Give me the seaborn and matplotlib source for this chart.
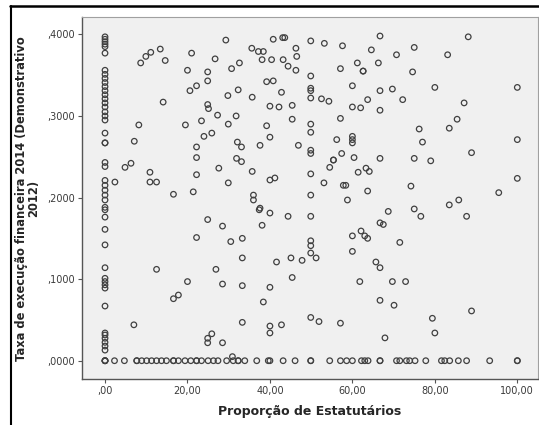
import matplotlib
matplotlib.use("Agg")
import matplotlib.pyplot as plt
import seaborn as sns
import pandas as pd
from matplotlib.lines import Line2D

# Proporção de Estatutários = 0 (coluna à esquerda)
col_zero_y = [0.397, 0.394, 0.391, 0.388, 0.385, 0.377, 0.356, 0.351, 0.346, 0.341,
              0.336, 0.331, 0.326, 0.321, 0.316, 0.311, 0.305, 0.300, 0.295, 0.279,
              0.267, 0.267, 0.243, 0.238, 0.221, 0.215, 0.209, 0.203, 0.197, 0.188,
              0.185, 0.176, 0.161, 0.142, 0.114, 0.101, 0.097, 0.093, 0.089, 0.067,
              0.034, 0.0315, 0.0275, 0.0225, 0.018, 0.013, 0.0, 0.0, 0.0, 0.0]

# Taxa = 0 (linha de baixo)
row_zero_x = [2.3, 4.7, 7.7, 7.7, 8.9, 10.1, 11.3, 12.5, 13.7, 14.9, 16.6, 16.6, 17.8,
              19.4, 20.8, 22.2, 22.2, 23.4, 25.0, 26.3, 27.4, 29.5, 31.1, 32.3, 32.3,
              33.9, 36.8, 39.6, 40.0, 43.2, 46.1, 49.9, 49.9, 54.5, 57.1, 58.6, 60.0,
              62.2, 63.0, 63.8, 66.7, 66.7, 70.7, 71.5, 73.1, 73.9, 75.2, 77.8, 81.6,
              82.4, 83.6, 85.7, 87.7, 93.3, 100.0, 100.0]

# demais pontos (x, y)
outros_x = [2.4, 4.85, 6.3, 7.1, 8.2, 8.65, 9.9, 11.1, 13.4, 14.6, 14.1, 10.9, 10.9, 12.5,
            16.6, 19.5, 20.0, 21.0, 20.6, 22.2, 21.4, 22.2, 22.2, 22.2, 23.4, 24.0, 25.9,
            24.9, 25.1, 24.9, 24.9, 26.7, 27.3, 27.6, 29.3, 29.8, 29.9, 29.9, 30.7, 31.8,
            32.3, 32.1, 31.9, 33.1, 33.1, 32.6, 35.6, 35.7, 35.7, 36.0, 36.0, 37.6, 37.2,
            38.4, 38.1, 37.6, 39.2, 39.2,
            40.8, 43.1, 43.6, 40.4, 43.2, 44.4, 46.3, 46.3, 46.5, 49.9, 53.2, 57.6, 66.7,
            64.6, 70.7, 75.0, 83.1, 88.1, 66.3, 61.2, 57.1, 62.6, 62.6, 74.6, 49.9, 40.8,
            42.8, 49.9, 49.9, 49.9, 52.5, 54.3, 60.0, 66.7, 69.7, 80.0, 100.0, 63.7, 72.2,
            60.0, 62.0, 66.7, 87.1, 40.0, 42.2, 45.4, 45.4, 57.1, 49.9, 49.9, 85.4, 83.5,
            76.2, 77.0, 100.0, 40.0, 46.9, 56.2, 60.0, 60.0, 60.0, 49.9, 49.9, 57.4, 55.4,
            55.4, 54.5, 60.4, 66.7, 75.0, 79.0, 88.9, 61.4, 63.3, 64.1, 49.9, 41.2, 40.0,
            53.1, 57.8, 58.4, 49.9, 63.7, 58.8, 74.2, 100.0, 95.5, 83.5, 85.8, 68.7, 75.0,
            76.6, 87.7, 40.0, 44.4, 49.9,
            66.7, 67.5, 60.0, 62.1, 63.0, 63.7, 71.5, 60.0, 49.9, 49.9, 49.9, 51.2, 41.6,
            45.1, 47.8, 65.7, 66.7, 45.4, 61.8, 69.7, 72.9, 40.0, 66.7, 70.1, 88.9, 49.9,
            51.9, 57.1, 79.4, 80.0, 67.9, 42.8, 40.0, 40.0,
            24.9, 28.5, 38.1, 37.4, 22.2, 30.5, 33.3, 33.3, 12.5, 26.9, 20.0, 28.5, 33.3,
            16.6, 17.8, 38.4, 7.0, 33.3, 24.9, 24.9, 25.9, 28.5, 30.9]
outros_y = [0.219, 0.237, 0.242, 0.269, 0.289, 0.365, 0.373, 0.378, 0.382, 0.368, 0.317,
            0.231, 0.219, 0.219, 0.204, 0.289, 0.356, 0.377, 0.331, 0.337, 0.207, 0.228,
            0.249, 0.262, 0.294, 0.275, 0.279, 0.314, 0.309, 0.343, 0.354, 0.370, 0.301,
            0.236, 0.393, 0.325, 0.290, 0.218, 0.358, 0.300, 0.332, 0.268, 0.248, 0.244,
            0.262, 0.365, 0.383, 0.323, 0.232, 0.203, 0.197, 0.187, 0.379, 0.379, 0.369,
            0.264, 0.342, 0.288,
            0.394, 0.396, 0.396, 0.369, 0.369, 0.361, 0.356, 0.383, 0.373, 0.392, 0.389,
            0.386, 0.398, 0.381, 0.375, 0.384, 0.375, 0.397, 0.365, 0.365, 0.358, 0.355,
            0.355, 0.354, 0.349, 0.343, 0.329, 0.334, 0.331, 0.322, 0.321, 0.318, 0.337,
            0.331, 0.333, 0.335, 0.335, 0.320, 0.320, 0.311, 0.310, 0.307, 0.316, 0.312,
            0.311, 0.313, 0.296, 0.297, 0.290, 0.280, 0.296, 0.285, 0.284, 0.268, 0.271,
            0.274, 0.264, 0.271, 0.275, 0.271, 0.267, 0.258, 0.254, 0.254, 0.246, 0.246,
            0.237, 0.249, 0.248, 0.248, 0.245, 0.255, 0.231, 0.236, 0.232, 0.229, 0.224,
            0.2215, 0.218, 0.215, 0.215, 0.203, 0.208, 0.197, 0.214, 0.2235, 0.206, 0.191,
            0.197, 0.183, 0.186, 0.177, 0.177, 0.181, 0.177, 0.177,
            0.169, 0.167, 0.153, 0.159, 0.153, 0.150, 0.145, 0.134, 0.147, 0.141, 0.132,
            0.126, 0.121, 0.126, 0.123, 0.121, 0.114, 0.102, 0.097, 0.097, 0.097, 0.090,
            0.074, 0.068, 0.061, 0.053, 0.048, 0.046, 0.052, 0.034, 0.028, 0.044, 0.0425,
            0.034,
            0.173, 0.165, 0.166, 0.185, 0.151, 0.146, 0.150, 0.126, 0.112, 0.112, 0.097,
            0.094, 0.092, 0.076, 0.0805, 0.072, 0.044, 0.047, 0.0275, 0.022, 0.033, 0.022,
            0.005]

x_ticks = [0, 20, 40, 60, 80, 100]
x_tick_labels = [',00', '20,00', '40,00', '60,00', '80,00', '100,00']
y_ticks = [0.0, 0.1, 0.2, 0.3, 0.4]
y_tick_labels = [',0000', ',1000', ',2000', ',3000', ',4000']

df = pd.DataFrame({
    'prop': [0.0] * len(col_zero_y) + row_zero_x + outros_x,
    'taxa': col_zero_y + [0.0] * len(row_zero_x) + outros_y,
})

sns.set_style("white")
plt.rcParams['font.family'] = ['DejaVu Sans']

fig = plt.figure(figsize=(5.39, 4.25), dpi=100)
ax = fig.add_axes([0.152, 0.1075, 0.846, 0.8525])
ax.set_facecolor('#f0f0f0')

sns.scatterplot(data=df, x='prop', y='taxa', ax=ax, marker='o', s=16,
                facecolor='none', edgecolor='#404040', linewidth=0.9)

ax.set_xlim(-5.6, 105)
ax.set_ylim(-0.0228, 0.4213)
ax.set_xticks(x_ticks)
ax.set_xticklabels(x_tick_labels)
ax.set_yticks(y_ticks)
ax.set_yticklabels(y_tick_labels)
ax.tick_params(axis='both', direction='out', length=3, width=0.8, color='#555555',
               labelsize=7, labelcolor='#3a3a3a', pad=2)
ax.tick_params(bottom=True, left=True)

for lado in ['top', 'right']:
    ax.spines[lado].set_color('#a0a0a0')
    ax.spines[lado].set_linewidth(0.8)
for lado in ['bottom', 'left']:
    ax.spines[lado].set_color('#555555')
    ax.spines[lado].set_linewidth(1.0)

ax.set_xlabel('Proporção de Estatutários', fontsize=9, fontweight='bold', labelpad=6)
ax.set_ylabel('Taxa de execução financeira 2014 (Demonstrativo\n2012)', fontsize=8.3,
              fontweight='bold', labelpad=5, linespacing=0.95)

# moldura externa (linha superior e esquerda)
fig.add_artist(Line2D([10 / 539, 1.0], [1 - 6 / 425, 1 - 6 / 425], color='black', lw=1.8))
fig.add_artist(Line2D([11 / 539, 11 / 539], [0, 1 - 6 / 425], color='black', lw=1.5))

fig.savefig('out.png', dpi=100)
